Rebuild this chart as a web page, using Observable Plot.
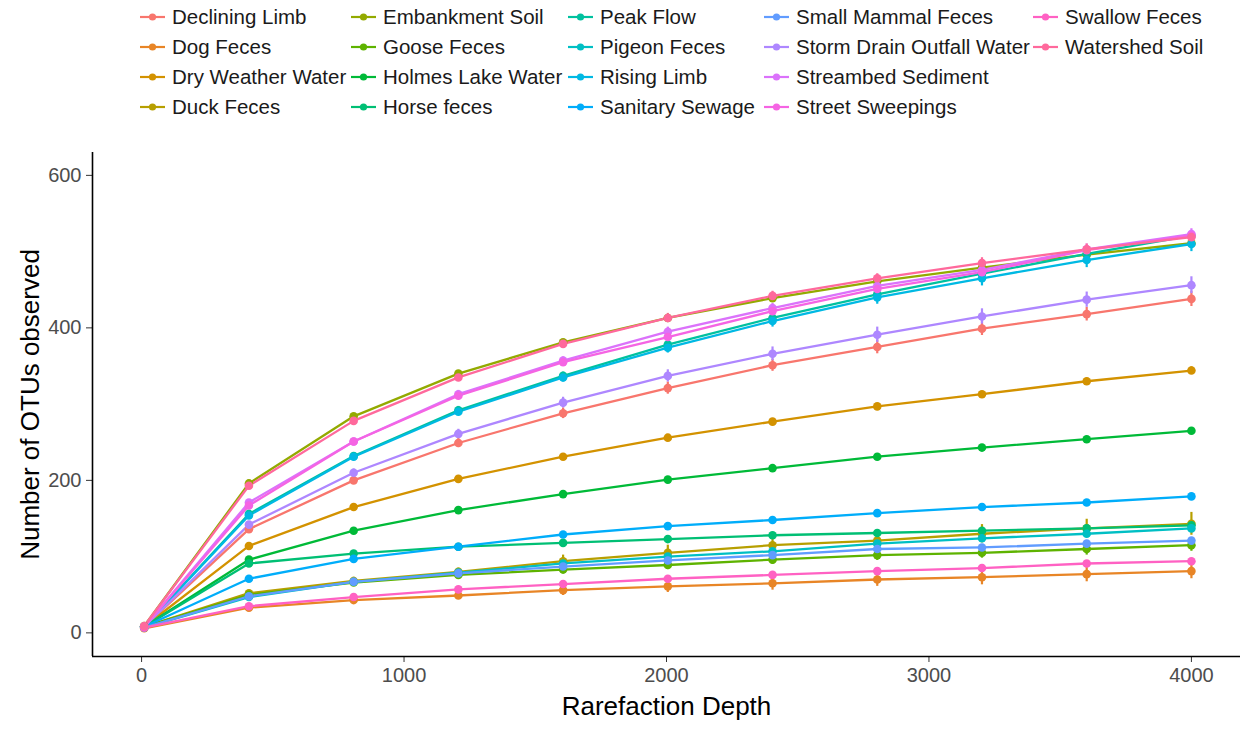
<!DOCTYPE html>
<html>
<head>
<meta charset="utf-8">
<script src="https://cdn.jsdelivr.net/npm/d3@7"></script>
<script src="https://cdn.jsdelivr.net/npm/@observablehq/plot@0.6"></script>
<style>
  body { margin: 0; background: #fff; font-family: "Liberation Sans", Arial, sans-serif; }
  #wrap { position: relative; width: 1243px; height: 729px; }
  #legend { position: absolute; left: 0; top: 0; width: 1243px; height: 130px; }
  .item { position: absolute; height: 30px; display: flex; align-items: center; font-size: 20.5px; color: #1a1a1a; white-space: nowrap; }
  .item svg { margin-right: 7px; }
  #chart { position: absolute; left: 0; top: 130px; }
  #chart svg text { font-family: "Liberation Sans", Arial, sans-serif; }
</style>
</head>
<body>
<div id="wrap">
  <div id="legend"></div>
  <div id="chart"></div>
</div>
<script>
// ---------- data ----------
const depths = [10, 409, 808, 1207, 1606, 2005, 2404, 2803, 3202, 3601, 4000];
const groups = ["Declining Limb", "Dog Feces", "Dry Weather Water", "Duck Feces", "Embankment Soil", "Goose Feces",
  "Holmes Lake Water", "Horse feces", "Peak Flow", "Pigeon Feces", "Rising Limb", "Sanitary Sewage",
  "Small Mammal Feces", "Storm Drain Outfall Water", "Streambed Sediment", "Street Sweepings", "Swallow Feces", "Watershed Soil"];

const decliningLimb   = [8, 136, 200, 249, 288, 321, 351, 375, 399, 418, 438];
const dogFeces        = [6, 33, 43, 49, 56, 61, 65, 70, 73, 77, 81];
const dryWeatherWater = [8, 114, 165, 202, 231, 256, 277, 297, 313, 330, 344];
const duckFeces       = [8, 52, 68, 80, 94, 105, 115, 121, 130, 137, 143];
const embankmentSoil  = [9, 196, 284, 340, 381, 413, 439, 461, 479, 496, 511];
const gooseFeces      = [8, 50, 66, 76, 83, 89, 96, 102, 105, 110, 115];
const holmesLakeWater = [8, 96, 134, 161, 182, 201, 216, 231, 243, 254, 265];
const horseFeces      = [8, 91, 104, 113, 118, 123, 128, 131, 134, 137, 141];
const peakFlow        = [8, 156, 232, 292, 337, 378, 413, 444, 471, 497, 521];
const pigeonFeces     = [7, 47, 67, 79, 91, 100, 107, 117, 124, 130, 137];
const risingLimb      = [8, 154, 231, 290, 335, 374, 409, 440, 465, 489, 510];
const sanitarySewage  = [8, 71, 97, 113, 129, 140, 148, 157, 165, 171, 179];
const smallMammal     = [7, 48, 67, 78, 87, 95, 102, 110, 112, 117, 121];
const stormDrain      = [8, 142, 210, 261, 302, 337, 366, 391, 415, 437, 456];
const streambed       = [8, 171, 251, 313, 357, 395, 426, 455, 476, 503, 523];
const streetSweepings = [8, 167, 251, 311, 355, 388, 422, 451, 473, 502, 521];
const swallowFeces    = [7, 35, 47, 57, 64, 71, 76, 81, 85, 91, 94];
const watershedSoil   = [9, 193, 278, 335, 379, 413, 442, 465, 485, 503, 519];

// error bar half-widths
const errDeclining  = [1, 4, 5, 6, 7, 8, 8, 9, 9, 9, 10];
const errDog        = [1, 3, 4, 5, 7, 8, 9, 9, 10, 10, 10];
const errDry        = [1, 2, 3, 3, 3, 3, 3, 3, 3, 4, 5];
const errDuck       = [1, 4, 5, 5, 8, 10, 10, 12, 12, 12, 15];
const errEmbankment = [1, 2, 2, 3, 3, 3, 3, 4, 4, 4, 4];
const errGoose      = [1, 4, 4, 5, 5, 6, 6, 7, 7, 8, 8];
const errHolmes     = [1, 1, 2, 2, 2, 2, 2, 3, 3, 3, 3];
const errHorse      = [1, 2, 2, 2, 2, 2, 3, 3, 3, 3, 3];
const errPeak       = [1, 3, 4, 5, 5, 6, 6, 6, 6, 6, 6];
const errPigeon     = [1, 2, 3, 3, 3, 3, 3, 3, 3, 4, 4];
const errRising     = [1, 3, 4, 5, 6, 7, 8, 9, 10, 10, 10];
const errSanitary   = [1, 1, 1, 1, 1, 2, 2, 2, 2, 2, 2];
const errSmall      = [1, 2, 2, 3, 3, 3, 4, 4, 4, 4, 4];
const errStorm      = [1, 3, 5, 6, 7, 8, 9, 10, 10, 10, 11];
const errStreambed  = [1, 3, 4, 5, 5, 6, 6, 6, 7, 7, 7];
const errStreet     = [1, 3, 4, 4, 5, 5, 5, 5, 5, 6, 6];
const errSwallow    = [1, 2, 2, 3, 3, 3, 3, 3, 3, 3, 3];
const errWatershed  = [1, 3, 4, 5, 5, 6, 6, 6, 7, 7, 7];

const xTicks = [0, 1000, 2000, 3000, 4000];
const yTicks = [0, 200, 400, 600];

const seriesValues = [decliningLimb, dogFeces, dryWeatherWater, duckFeces, embankmentSoil, gooseFeces,
  holmesLakeWater, horseFeces, peakFlow, pigeonFeces, risingLimb, sanitarySewage, smallMammal, stormDrain,
  streambed, streetSweepings, swallowFeces, watershedSoil];
const seriesErrors = [errDeclining, errDog, errDry, errDuck, errEmbankment, errGoose, errHolmes, errHorse,
  errPeak, errPigeon, errRising, errSanitary, errSmall, errStorm, errStreambed, errStreet, errSwallow, errWatershed];

// ---------- ggplot2 default hue palette (polar Luv, l=65, c=100) ----------
function hclLuv(h, c, l) {
  const Xn = 95.047, Yn = 100, Zn = 108.883;
  const den = Xn + 15 * Yn + 3 * Zn;
  const un = 4 * Xn / den, vn = 9 * Yn / den;
  const hr = h * Math.PI / 180;
  const U = c * Math.cos(hr), V = c * Math.sin(hr);
  const Y = Yn * (l > 8 ? Math.pow((l + 16) / 116, 3) : l / 903.3);
  const up = U / (13 * l) + un, vp = V / (13 * l) + vn;
  const X = 9 * Y * up / (4 * vp);
  const Z = -X / 3 - 5 * Y + 3 * Y / vp;
  const x = X / 100, y = Y / 100, z = Z / 100;
  const lin = [
    3.240479 * x - 1.537150 * y - 0.498535 * z,
    -0.969256 * x + 1.875992 * y + 0.041556 * z,
    0.055648 * x - 0.204043 * y + 1.057311 * z
  ];
  const g = lin.map(v => {
    const s = v <= 0.0031308 ? 12.92 * v : 1.055 * Math.pow(v, 1 / 2.4) - 0.055;
    return Math.round(Math.max(0, Math.min(1, s)) * 255);
  });
  return d3.rgb(g[0], g[1], g[2]).formatHex();
}
const palette = groups.map((_, i) => hclLuv(15 + i * 360 / groups.length, 100, 65));

// ---------- rows ----------
const rows = [];
groups.forEach((g, i) => {
  depths.forEach((d, j) => {
    rows.push({group: g, depth: d, otus: seriesValues[i][j], err: seriesErrors[i][j]});
  });
});

// ---------- legend ----------
const legendColLeft = [140, 351, 568, 764, 1033];
const legend = document.getElementById("legend");
groups.forEach((g, i) => {
  const col = Math.floor(i / 4), row = i % 4;
  const div = document.createElement("div");
  div.className = "item";
  div.style.left = legendColLeft[col] + "px";
  div.style.top = (2 + row * 30) + "px";
  div.innerHTML = `<svg width="25" height="12"><line x1="0" x2="25" y1="6" y2="6" stroke="${palette[i]}" stroke-width="2.2"/><circle cx="12.5" cy="6" r="3.6" fill="${palette[i]}"/></svg><span>${g}</span>`;
  legend.appendChild(div);
});

// ---------- chart ----------
const xDomain = [-187, 4187];
const yDomain = [-31, 630];

const chart = Plot.plot({
  width: 1243,
  height: 599,
  marginTop: 22,
  marginBottom: 73,
  marginLeft: 92,
  marginRight: 3,
  x: {domain: xDomain},
  y: {domain: yDomain},
  color: {domain: groups, range: palette},
  marks: [
    Plot.ruleX(rows, {x: "depth", y1: d => d.otus - d.err, y2: d => d.otus + d.err, stroke: "group", strokeWidth: 2.2}),
    Plot.line(rows, {x: "depth", y: "otus", z: "group", stroke: "group", strokeWidth: 2.3}),
    Plot.dot(rows, {x: "depth", y: "otus", fill: "group", r: 4.3}),
    Plot.axisX({ticks: xTicks, tickFormat: d3.format("d"), tickSize: 6, tickPadding: 5, fontSize: 20, label: null, stroke: "#333"}),
    Plot.axisY({ticks: yTicks, tickFormat: d3.format("d"), tickSize: 6, tickPadding: 5, fontSize: 20, label: null, stroke: "#333"}),
    Plot.ruleX([xDomain[0]], {stroke: "#000", strokeWidth: 1.6}),
    Plot.ruleY([yDomain[0]], {stroke: "#000", strokeWidth: 1.6}),
    Plot.text(["Rarefaction Depth"], {frameAnchor: "bottom", dy: 50, lineAnchor: "middle", textAnchor: "middle", fontSize: 26, fill: "#000"}),
    Plot.text(["Number of OTUs observed"], {frameAnchor: "left", dx: -62, rotate: -90, textAnchor: "middle", lineAnchor: "middle", fontSize: 26, fill: "#000"})
  ]
});
document.getElementById("chart").appendChild(chart);
d3.select(chart).selectAll('g[aria-label="x-axis tick label"], g[aria-label="y-axis tick label"]').attr("fill", "#4d4d4d");
d3.select(chart).selectAll('g[aria-label="x-axis tick label"] text, g[aria-label="y-axis tick label"] text').attr("fill", "#4d4d4d");
</script>
</body>
</html>
